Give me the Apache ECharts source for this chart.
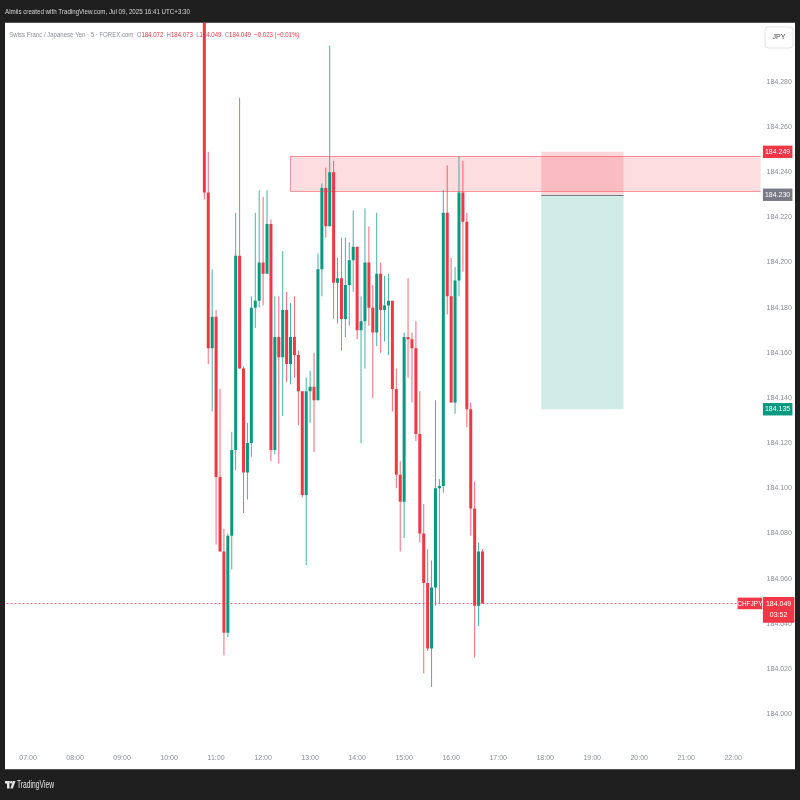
<!DOCTYPE html>
<html><head><meta charset="utf-8">
<script src="https://cdn.jsdelivr.net/npm/echarts@6/dist/echarts.min.js"></script>
<style>html,body{margin:0;padding:0;background:#1f1f1f;}#c{width:800px;height:800px;}</style>
</head><body><div id="c"></div>
<script>
// ---- data (CHFJPY 5m, FOREX.com) ----
const candleTimes = ['10:45','10:50','10:55','11:00','11:05','11:10','11:15','11:20','11:25','11:30','11:35','11:40',
'11:45','11:50','11:55','12:00','12:05','12:10','12:15','12:20','12:25','12:30','12:35','12:40',
'12:45','12:50','12:55','13:00','13:05','13:10','13:15','13:20','13:25','13:30','13:35','13:40',
'13:45','13:50','13:55','14:00','14:05','14:10','14:15','14:20','14:25','14:30','14:35','14:40',
'14:45','14:50','14:55','15:00','15:05','15:10','15:15','15:20','15:25','15:30','15:35','15:40',
'15:45','15:50','15:55','16:00','16:05','16:10','16:15','16:20','16:25','16:30','16:35','16:40'];
const opens = [184.320,184.231,184.162,184.176,184.105,184.072,184.036,184.079,184.117,184.203,184.153,184.107,
184.120,184.180,184.183,184.200,184.195,184.217,184.117,184.167,184.158,184.179,184.155,184.167,
184.159,184.143,184.097,184.143,184.145,184.139,184.197,184.233,184.216,184.240,184.191,184.193,
184.175,184.190,184.201,184.207,184.170,184.174,184.200,184.180,184.169,184.195,184.179,184.181,
184.183,184.144,184.106,184.094,184.167,184.166,184.162,184.124,184.080,184.058,184.029,184.056,
184.100,184.101,184.222,184.185,184.138,184.192,184.231,184.218,184.135,184.091,184.048,184.072];
const highs = [184.325,184.249,184.197,184.179,184.144,184.082,184.080,184.125,184.222,184.273,184.154,184.129,
184.185,184.222,184.232,184.229,184.232,184.219,184.185,184.185,184.205,184.187,184.182,184.185,
184.161,184.143,184.149,184.152,184.160,184.204,184.235,184.242,184.296,184.245,184.202,184.211,
184.211,184.209,184.223,184.207,184.185,184.224,184.216,184.190,184.222,184.200,184.194,184.195,
184.183,184.153,184.112,184.169,184.193,184.169,184.174,184.143,184.093,184.073,184.068,184.139,
184.104,184.232,184.243,184.202,184.198,184.247,184.245,184.222,184.138,184.103,184.076,184.073];
const lows = [184.228,184.155,184.134,184.075,184.072,184.026,184.034,184.064,184.108,184.153,184.089,184.095,
184.114,184.171,184.180,184.181,184.195,184.112,184.115,184.111,184.132,184.147,184.146,184.149,
184.128,184.096,184.066,184.129,184.116,184.139,184.185,184.211,184.216,184.175,184.173,184.161,
184.167,184.172,184.187,184.166,184.120,184.153,184.172,184.140,184.163,184.160,184.165,184.159,
184.134,184.100,184.072,184.078,184.149,184.138,184.121,184.076,184.018,184.028,184.012,184.048,
184.049,184.098,184.177,184.138,184.133,184.185,184.196,184.127,184.079,184.025,184.039,184.049];
const closes = [184.231,184.162,184.176,184.105,184.072,184.036,184.079,184.117,184.203,184.153,184.107,184.120,
184.180,184.183,184.200,184.195,184.217,184.117,184.167,184.158,184.179,184.155,184.167,184.159,
184.143,184.097,184.143,184.145,184.139,184.197,184.233,184.216,184.240,184.191,184.193,184.175,
184.190,184.201,184.207,184.170,184.174,184.200,184.180,184.169,184.195,184.179,184.181,184.183,
184.144,184.106,184.094,184.167,184.166,184.162,184.124,184.080,184.058,184.029,184.056,184.100,
184.101,184.222,184.185,184.138,184.192,184.231,184.218,184.135,184.091,184.048,184.072,184.049];
const priceTicks = [184.000,184.020,184.040,184.060,184.080,184.100,184.120,184.140,184.160,184.180,184.200,184.220,184.240,184.260,184.280];
const axisStart = '06:35', axisEnd = '22:35';
const lastPrice = 184.049, countdown = '03:52', symbolName = 'CHFJPY';
const zoneStart = '12:35', zoneEnd = '22:35', zoneTop = 184.247, zoneBottom = 184.2315;
const posStart = '17:55', posEnd = '19:40', stopPrice = 184.249, entryPrice = 184.230, targetPrice = 184.135;
const tagValues = [stopPrice, entryPrice, targetPrice, lastPrice];
const tagTexts  = ['184.249', '184.230', '184.135', '184.049'];
const tagColors = ['#F23645', '#787b86', '#089981', '#F23645'];
const headerText = 'Almiis created with TradingView.com, Jul 09, 2025 16:41 UTC+3:30';
const legendParts = [['g','Swiss Franc / Japanese Yen · 5 · FOREX.com  '],['g','O'],['r','184.072  '],['g','H'],['r','184.073  '],
  ['g','L'],['r','184.049  '],['g','C'],['r','184.049  '],['r','−0.023 (−0.01%)']];

// ---- helpers ----
const FONT = "'Liberation Sans', Arial, sans-serif";
const cv = document.createElement('canvas').getContext('2d');
function tw(t, size){ cv.font = size + 'px ' + FONT; return cv.measureText(t).width; }
function pad(n){ return (n < 10 ? '0' : '') + n; }
function toMin(s){ const p = s.split(':'); return +p[0]*60 + +p[1]; }
const categories = [];
for (let m = toMin(axisStart); m <= toMin(axisEnd); m += 5) categories.push(pad(Math.floor(m/60)) + ':' + pad(m%60));
const candleData = candleTimes.map((t,i) => [t, opens[i], closes[i], lows[i], highs[i]]);
const tagData = tagValues.map(v => [axisEnd, v]);

const UP = '#089981', DOWN = '#F23645', GRAY = '#8a8e97';
const yMin = 183.9863, yMax = 184.3062;

const headerScale = 185 / tw(headerText, 8);
const legendPlain = legendParts.map(p => p[1]).join('');
const legendScale = 290 / tw(legendPlain, 8);
const legendRich = legendParts.map(p => '{' + p[0] + '|' + p[1] + '}').join('');

function renderCandle(params, api) {
  const xi = api.value(0), o = api.value(1), c = api.value(2), l = api.value(3), h = api.value(4);
  const pO = api.coord([xi, o]), pC = api.coord([xi, c]), pL = api.coord([xi, l]), pH = api.coord([xi, h]);
  const col = c >= o ? UP : DOWN;
  const x = pO[0];
  const top = Math.min(pO[1], pC[1]);
  const bh = Math.max(Math.abs(pO[1] - pC[1]), 1);
  return { type: 'group', children: [
    { type: 'line', shape: { x1: x, y1: pH[1], x2: x, y2: pL[1] }, style: { stroke: col, lineWidth: 1, opacity: 0.75 } },
    { type: 'rect', shape: { x: x - 1.5, y: top, width: 3, height: bh }, style: { fill: col } }
  ]};
}

function renderTag(params, api) {
  const i = params.dataIndex;
  const cs = params.coordSys;
  const right = cs.x + cs.width;
  const y = api.coord([api.value(0), api.value(1)])[1];
  const col = tagColors[i];
  const txt = { fill: '#fff', font: '7px ' + FONT, align: 'center', verticalAlign: 'middle' };
  if (i === tagValues.length - 1) {
    const ly = Math.round(y) + 0.5;
    return { type: 'group', children: [
      { type: 'line', shape: { x1: cs.x, y1: ly, x2: right, y2: ly }, style: { stroke: '#F23645', lineWidth: 1, lineDash: [2, 2], opacity: 0.7 } },
      { type: 'rect', shape: { x: right - 25, y: y - 5.8, width: 24.5, height: 11.6 }, style: { fill: col } },
      { type: 'text', x: right - 12.75, y: y + 0.3, style: Object.assign({ text: symbolName }, txt, { font: '6.5px ' + FONT }) },
      { type: 'rect', shape: { x: right + 0.3, y: y - 6.4, width: 31.5, height: 25.6 }, style: { fill: col } },
      { type: 'text', x: right + 16, y: y + 0.3, style: Object.assign({ text: tagTexts[i] }, txt) },
      { type: 'text', x: right + 16, y: y + 12, style: Object.assign({ text: countdown }, txt) }
    ]};
  }
  return { type: 'group', children: [
    { type: 'rect', shape: { x: right + 0.3, y: y - 6.2, width: 29.5, height: 12.4 }, style: { fill: col } },
    { type: 'text', x: right + 15, y: y + 0.3, style: Object.assign({ text: tagTexts[i] }, txt) }
  ]};
}

const zoneEdge = { color: 'rgba(242,54,69,0.5)', width: 1, type: 'solid' };
const chart = echarts.init(document.getElementById('c'), null, { renderer: 'canvas' });
chart.setOption({
  animation: false,
  backgroundColor: '#1f1f1f',
  grid: { left: 6.5, right: 37.4, top: 22.7, bottom: 55 },
  xAxis: {
    type: 'category', data: categories, boundaryGap: true,
    axisLine: { show: false }, axisTick: { show: false }, splitLine: { show: false },
    axisLabel: { interval: (i, v) => v.slice(3) === '00', color: GRAY, fontSize: 7, fontFamily: FONT, margin: 10 }
  },
  yAxis: {
    type: 'value', position: 'right', min: yMin, max: yMax, scale: true,
    axisLine: { show: false }, axisTick: { show: false }, splitLine: { show: false },
    axisLabel: { customValues: priceTicks, formatter: v => v.toFixed(3), color: GRAY, fontSize: 7, fontFamily: FONT, margin: 4 }
  },
  series: [
    {
      type: 'scatter', data: [], z: 2, silent: true,
      markArea: {
        silent: true,
        data: [
          [{ coord: [zoneStart, zoneTop], itemStyle: { color: 'rgba(242,54,69,0.17)' } }, { coord: [zoneEnd, zoneBottom] }],
          [{ coord: [posStart, stopPrice], itemStyle: { color: 'rgba(242,54,69,0.2)' } }, { coord: [posEnd, entryPrice] }],
          [{ coord: [posStart, entryPrice], itemStyle: { color: 'rgba(8,153,129,0.19)' } }, { coord: [posEnd, targetPrice] }]
        ]
      },
      markLine: {
        silent: true, symbol: ['none', 'none'],
        data: [
          [{ coord: [zoneStart, zoneTop], lineStyle: zoneEdge, label: { show: false } }, { coord: [zoneEnd, zoneTop] }],
          [{ coord: [zoneStart, zoneBottom], lineStyle: zoneEdge, label: { show: false } }, { coord: [zoneEnd, zoneBottom] }],
          [{ coord: [zoneStart, zoneTop], lineStyle: zoneEdge, label: { show: false } }, { coord: [zoneStart, zoneBottom] }],
          [{ coord: [posStart, entryPrice], lineStyle: { color: '#787b86', width: 1, type: 'solid' }, label: { show: false } },
           { coord: [posEnd, entryPrice] }]
        ]
      }
    },
    {
      type: 'custom', name: 'CHFJPY', data: candleData, encode: { x: 0, y: [1, 2, 3, 4] },
      renderItem: renderCandle, clip: true, z: 3, silent: true
    },
    {
      type: 'custom', name: 'tags', data: tagData, encode: { x: 0, y: 1 },
      renderItem: renderTag, clip: false, z: 10, silent: true
    }
  ],
  graphic: [
    { type: 'rect', z: -10, silent: true, shape: { x: 5, y: 22.7, width: 790, height: 746.5 }, style: { fill: '#ffffff' } },
    { type: 'text', z: 1, x: 5, y: 11.5, scaleX: headerScale, silent: true,
      style: { text: headerText, fill: '#d6d6d6', font: '8px ' + FONT, verticalAlign: 'middle' } },
    { type: 'text', z: 1, x: 9.3, y: 34.5, scaleX: legendScale, silent: true,
      style: { text: legendRich, font: '8px ' + FONT, verticalAlign: 'middle',
        rich: { g: { fill: GRAY, fontSize: 8, fontFamily: FONT }, r: { fill: DOWN, fontSize: 8, fontFamily: FONT } } } },
    { type: 'rect', z: 1, silent: true, shape: { x: 765, y: 27, width: 28, height: 21, r: 3 }, style: { fill: '#fff', stroke: '#e0e3eb', lineWidth: 1 } },
    { type: 'text', z: 2, x: 779, y: 37.5, silent: true, style: { text: 'JPY', fill: '#444', font: '7px ' + FONT, align: 'center', verticalAlign: 'middle' } },
    { type: 'rect', z: 1, silent: true, shape: { x: 5, y: 781, width: 4.5, height: 2.5 }, style: { fill: '#e6e6e6' } },
    { type: 'rect', z: 1, silent: true, shape: { x: 7, y: 781, width: 2.5, height: 7.5 }, style: { fill: '#e6e6e6' } },
    { type: 'circle', z: 1, silent: true, shape: { cx: 11.3, cy: 782.3, r: 1.3 }, style: { fill: '#e6e6e6' } },
    { type: 'polygon', z: 1, silent: true, shape: { points: [[13, 781], [15.5, 781], [12.8, 788.5], [10.3, 788.5]] }, style: { fill: '#e6e6e6' } },
    { type: 'text', z: 1, x: 17, y: 784.8, scaleX: 37 / tw('TradingView', 10), silent: true,
      style: { text: 'TradingView', fill: '#e6e6e6', font: '10px ' + FONT, verticalAlign: 'middle' } }
  ]
});
</script></body></html>
